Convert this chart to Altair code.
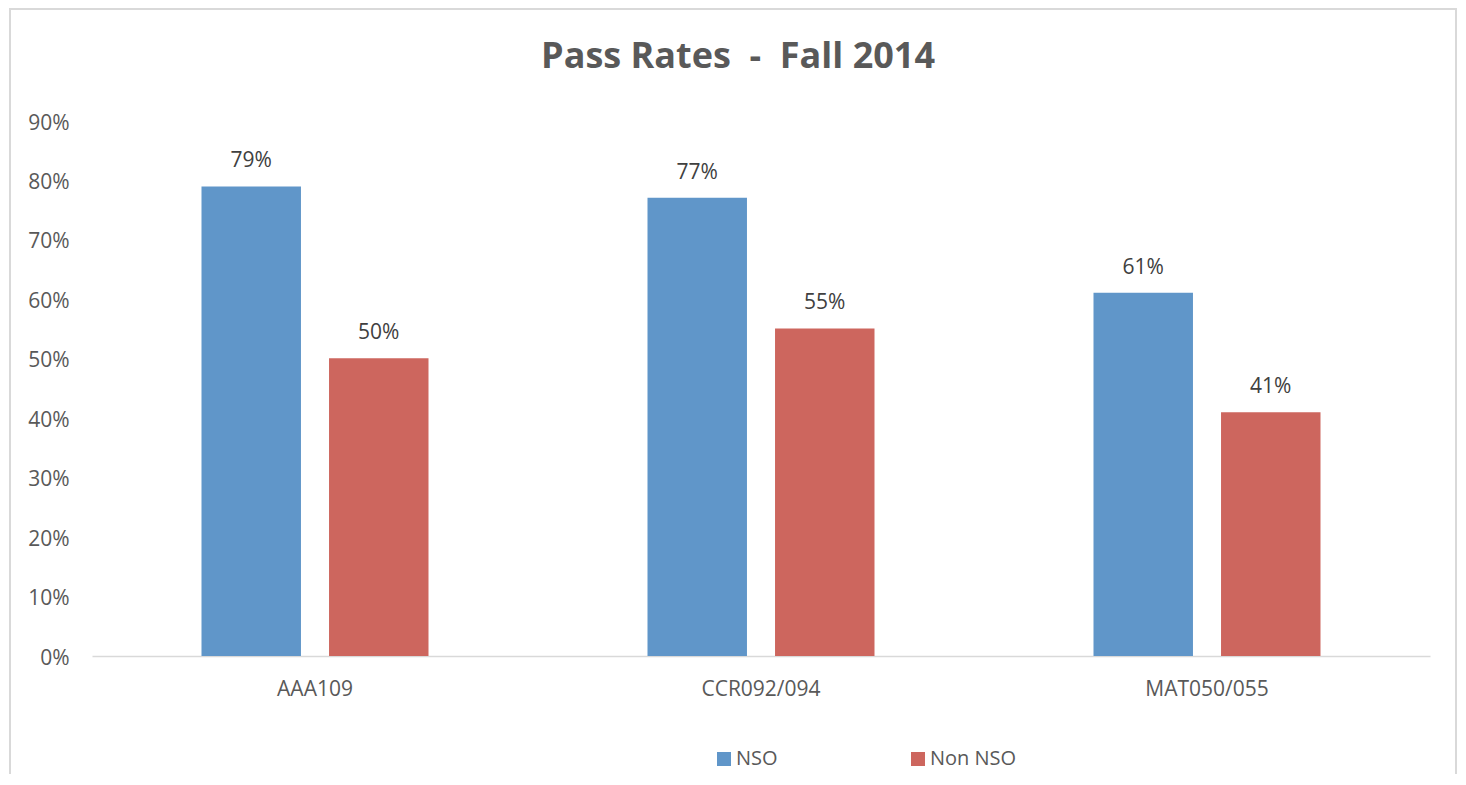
import altair as alt
import pandas as pd

categories = ["AAA109", "CCR092/094", "MAT050/055"]
series = ["NSO", "Non NSO"]
nso_values = [0.79, 0.771, 0.611]
non_nso_values = [0.501, 0.551, 0.41]
y_ticks = [0, 0.1, 0.2, 0.3, 0.4, 0.5, 0.6, 0.7, 0.8, 0.9]
colors = ["#6096c9", "#cd665e"]

rows = []
for i, c in enumerate(categories):
    rows.append({"course": c, "group": series[0], "rate": nso_values[i]})
    rows.append({"course": c, "group": series[1], "rate": non_nso_values[i]})
df = pd.DataFrame(rows)

FONT = "Open Sans"

x_enc = alt.X("course:N", sort=categories, title=None,
              scale=alt.Scale(paddingInner=0.491, paddingOuter=0.2455),
              axis=alt.Axis(labelAngle=0, labelFontSize=21, labelColor="#595959",
                            labelFont=FONT, labelBaseline="alphabetic", labelPadding=39,
                            ticks=False, tickSize=0, domainColor="#d9d9d9",
                            domainWidth=1.5, grid=False))
xo_enc = alt.XOffset("group:N", sort=series,
                     scale=alt.Scale(paddingInner=0.22, paddingOuter=0))
y_enc = alt.Y("rate:Q", title=None,
              scale=alt.Scale(domain=[0, 0.9], nice=False),
              axis=alt.Axis(values=y_ticks, format=".0%", labelFontSize=21,
                            labelColor="#595959", labelFont=FONT, domain=False,
                            ticks=False, tickSize=0, grid=False, labelPadding=23,
                            labelOffset=2))

base = alt.Chart(df)

bars = base.mark_bar().encode(
    x=x_enc, xOffset=xo_enc, y=y_enc,
    color=alt.Color("group:N", sort=series,
                    scale=alt.Scale(domain=series, range=colors),
                    legend=alt.Legend(title=None, orient="none", direction="horizontal",
                                      legendX=622, legendY=628, padding=0,
                                      symbolType="square", symbolSize=196,
                                      symbolStrokeWidth=0, labelFontSize=20,
                                      labelFont=FONT, labelColor="#595959",
                                      labelOffset=2, columnPadding=130)),
)

labels = base.mark_text(baseline="alphabetic", dy=-19, fontSize=21, font=FONT,
                        color="#404040").encode(
    x=alt.X("course:N", sort=categories), xOffset=alt.XOffset("group:N", sort=series),
    y="rate:Q", text=alt.Text("rate:Q", format=".0%"),
)

border = alt.Chart(pd.DataFrame({"k": [0]})).mark_rect(
    filled=False, stroke="#d9d9d9", strokeWidth=2
).encode(x=alt.value(-82), x2=alt.value(1364), y=alt.value(-112), y2=alt.value(800))

chart = alt.layer(border, bars, labels).properties(
    width=1338, height=535,
    autosize=alt.AutoSizeParams(type="none"),
    padding={"left": 84, "top": 113, "right": 28, "bottom": 118},
    title=alt.TitleParams("Pass Rates \u00a0-\u00a0 Fall 2014", font=FONT, fontSize=36,
                          fontWeight="bold", color="#595959", anchor="middle",
                          baseline="alphabetic", offset=0, dy=96, frame="group", dx=-23),
    background="white",
).configure_view(stroke=None)

chart.save("out.html", embed_options={"renderer": "svg", "actions": False})
